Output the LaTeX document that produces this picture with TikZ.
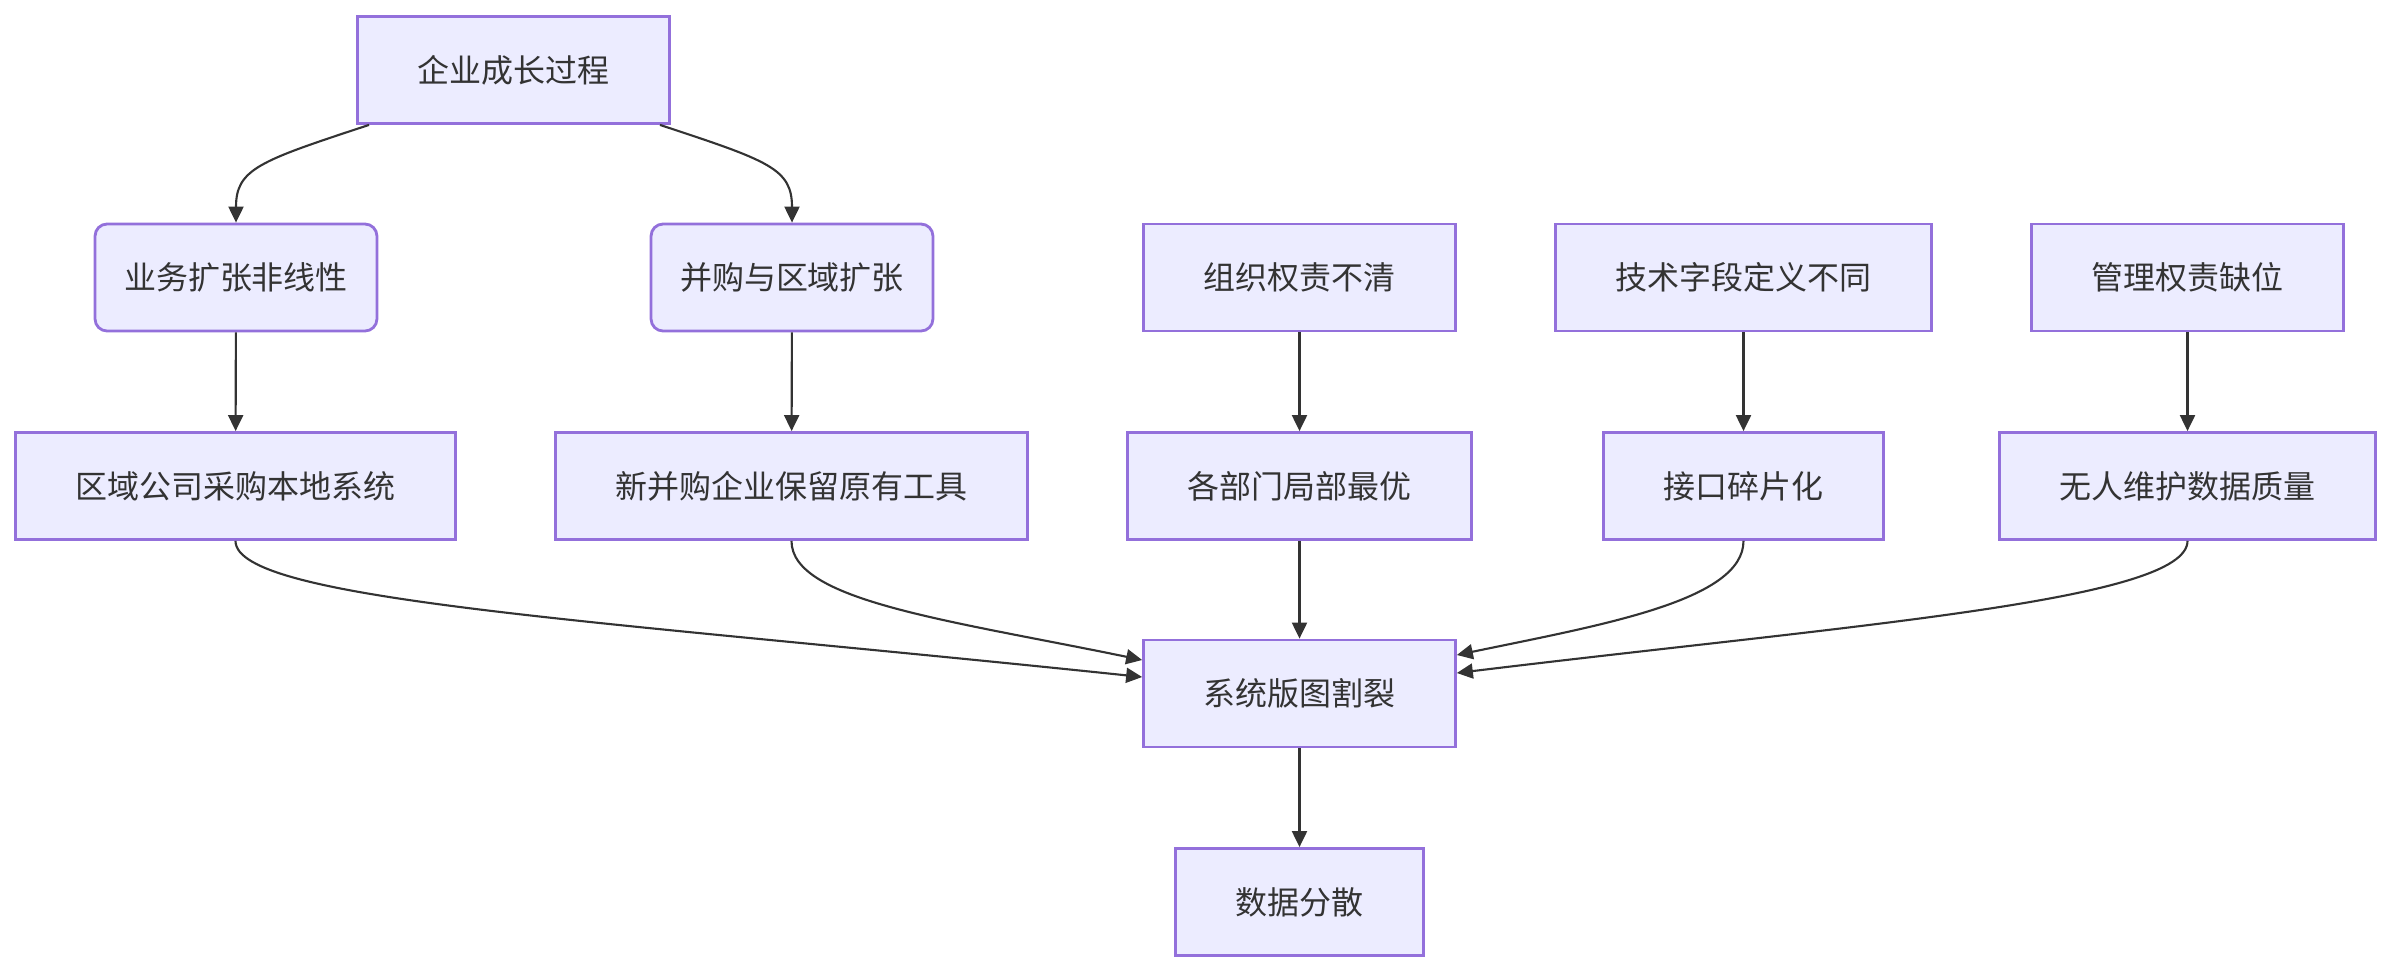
\documentclass[tikz,border=0pt]{standalone}
\usepackage{fontspec}
\newfontfamily\cjk{Noto Sans CJK SC}
\usepackage{xcolor}
\definecolor{mmfill}{RGB}{236,236,255}
\definecolor{mmborder}{RGB}{147,112,219}
\definecolor{mmline}{RGB}{51,51,51}
\definecolor{mmtext}{RGB}{51,51,51}
\usepackage{tikz}
\usetikzlibrary{arrows.meta, positioning}

\tikzset{
  procbox/.style={draw=mmborder, fill=mmfill, line width=0.8pt, text=mmtext,
    font=\cjk\fontsize{9.1pt}{11pt}\selectfont, inner xsep=0.6cm, inner ysep=0pt,
    minimum height=1.07cm},
  roundbox/.style={procbox, rounded corners=0.12cm, inner xsep=0.29cm},
  flow/.style={draw=mmline, line width=0.6pt, -{Triangle[length=0.16cm, width=0.15cm]}},
}

\begin{document}
\begin{tikzpicture}
  \useasboundingbox (0,0) rectangle (23.92,-9.72);

  % --- Top ---
  \node[procbox] (growth) at (5.135,-0.70) {企业成长过程};

  % --- Row 1 ---
  \node[roundbox] (expand) at (2.36,-2.775)   {业务扩张非线性};
  \node[roundbox] (merge)  at (7.92,-2.775)   {并购与区域扩张};
  \node[procbox]  (orgduty) at (12.995,-2.775) {组织权责不清};
  \node[procbox]  (techfield) at (17.435,-2.775) {技术字段定义不同};
  \node[procbox]  (mgmtduty) at (21.875,-2.775) {管理权责缺位};

  % --- Row 2 ---
  \node[procbox] (regional) at (2.355,-4.86)  {区域公司采购本地系统};
  \node[procbox] (keeptool) at (7.915,-4.86)  {新并购企业保留原有工具};
  \node[procbox] (deptopt)  at (12.995,-4.86) {各部门局部最优};
  \node[procbox] (iface)    at (17.435,-4.86) {接口碎片化};
  \node[procbox] (noqual)   at (21.875,-4.86) {无人维护数据质量};

  % --- Bottom ---
  \node[procbox] (split)   at (12.995,-6.935) {系统版图割裂};
  \node[procbox] (scatter) at (12.995,-9.02)  {数据分散};

  % Connectors
  \draw[flow] ([xshift=-1.445cm]growth.south) .. controls +(-1.09,-0.36) and +(0,0.54) .. (expand.north);
  \draw[flow] ([xshift=1.465cm]growth.south) .. controls +(1.09,-0.36) and +(0,0.54) .. (merge.north);

  \draw[flow] (expand) -- (regional);
  \draw[flow] (merge) -- (keeptool);
  \draw[flow] (orgduty) -- (deptopt);
  \draw[flow] (techfield) -- (iface);
  \draw[flow] (mgmtduty) -- (noqual);

  \draw[flow] (regional.south) .. controls +(0,-0.6) and +(-5.44,0.57) .. ([yshift=0.165cm]split.west);
  \draw[flow] (keeptool.south) .. controls +(0,-0.6) and +(-1.94,0.40) .. ([yshift=0.335cm]split.west);
  \draw[flow] (deptopt) -- (split);
  \draw[flow] (iface.south) .. controls +(0,-0.6) and +(1.44,0.30) .. ([yshift=0.385cm]split.east);
  \draw[flow] (noqual.south) .. controls +(0,-0.6) and +(3.94,0.48) .. ([yshift=0.205cm]split.east);

  \draw[flow] (split) -- (scatter);
\end{tikzpicture}
\end{document}
